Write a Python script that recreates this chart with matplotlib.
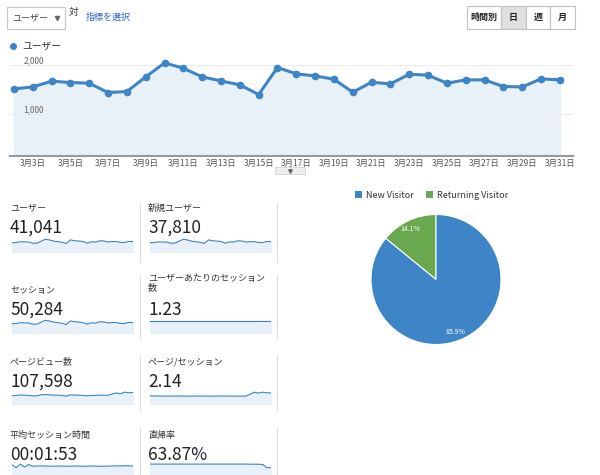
import matplotlib
matplotlib.use("Agg")
import matplotlib.pyplot as plt
from matplotlib.patches import Rectangle
import numpy as np

plt.rcParams["font.family"] = ["Noto Sans CJK JP", "DejaVu Sans"]

dates = [f"3月{d}日" for d in range(2, 32)]
users = [1510, 1550, 1667, 1640, 1626, 1435, 1456, 1755, 2040, 1932, 1755, 1673, 1592, 1395, 1946,
         1816, 1775, 1707, 1442, 1646, 1612, 1810, 1789, 1626, 1694, 1694, 1558, 1551, 1714, 1694]
yticks = [1000, 2000]
tick_labels = ["1,000", "2,000"]

metric_names = ["ユーザー", "新規ユーザー", "セッション", "ユーザーあたりのセッション\n数",
                "ページビュー数", "ページ/セッション", "平均セッション時間", "直帰率"]
metric_values = ["41,041", "37,810", "50,284", "1.23", "107,598", "2.14", "00:01:53", "63.87%"]
spark_users = users
spark_new = [1400, 1430, 1520, 1500, 1490, 1330, 1350, 1620, 1880, 1780, 1610, 1540, 1460, 1290, 1790,
             1670, 1630, 1570, 1330, 1510, 1480, 1660, 1640, 1490, 1550, 1550, 1430, 1420, 1570, 1550]
spark_sessions = [1850, 1900, 2050, 2010, 1990, 1760, 1790, 2150, 2500, 2370, 2150, 2050, 1950, 1710, 2380,
                  2220, 2170, 2090, 1770, 2020, 1980, 2220, 2190, 1990, 2080, 2080, 1910, 1900, 2100, 2080]
spark_spu = [1.23, 1.23, 1.23, 1.23, 1.23, 1.23, 1.23, 1.23, 1.23, 1.23, 1.23, 1.23, 1.23, 1.23, 1.23,
             1.23, 1.23, 1.23, 1.23, 1.23, 1.23, 1.23, 1.23, 1.23, 1.23, 1.23, 1.23, 1.23, 1.23, 1.23]
spark_pv = [3300, 3350, 3550, 3450, 3400, 3150, 3250, 3600, 3700, 3600, 3500, 3450, 3350, 3100, 3600,
            3500, 3450, 3400, 3200, 3400, 3350, 3500, 3450, 3400, 3900, 4300, 4000, 4600, 4400, 4500]
spark_pps = [2.05, 2.03, 2.02, 2.0, 2.01, 2.0, 2.02, 2.02, 2.0, 2.0, 2.0, 2.01, 2.0, 2.01, 2.0,
             2.0, 2.01, 2.02, 2.01, 2.0, 2.01, 2.0, 2.0, 2.0, 2.3, 2.6, 2.45, 2.6, 2.5, 2.5]
spark_dur = [120, 100, 125, 105, 122, 110, 112, 113, 112, 111, 110, 112, 111, 110, 111,
             112, 111, 110, 111, 112, 111, 110, 110, 111, 112, 113, 112, 114, 113, 112]
spark_bounce = [70, 70, 70, 70, 70, 70, 70, 70, 70, 70, 70, 70, 70, 70, 70,
                70, 70, 70, 70, 70, 70, 70, 70, 70, 69, 69, 69, 67, 40, 40]
sparks = [spark_users, spark_new, spark_sessions, spark_spu, spark_pv, spark_pps, spark_dur, spark_bounce]

pie_labels = ["Returning Visitor", "New Visitor"]
pie_values = [14.1, 85.9]

W, H = 600, 475
BLUE = "#3d85c6"
GREEN = "#6aa84f"
fig = plt.figure(figsize=(6, 4.75), dpi=100)

def fx(x): return x / W
def fy(y): return 1 - y / H
def ax_px(x0, y0, x1, y1):
    return fig.add_axes([fx(x0), fy(y1), (x1 - x0) / W, (y1 - y0) / H])

ui = fig.add_axes([0, 0, 1, 1]); ui.set_xlim(0, W); ui.set_ylim(H, 0); ui.axis("off")
ui.add_patch(Rectangle((7, 7), 58, 22, fill=False, ec="#c8c8c8", lw=0.8))
ui.text(12, 18, "ユーザー", fontsize=6.5, va="center", color="#444")
ui.plot([57], [18], marker="v", ms=3, color="#666")
ui.text(69, 12, "対", fontsize=7, va="center", color="#333")
ui.text(86, 17, "指標を選択", fontsize=6.5, va="center", color="#3366cc")
btns = [("時間別", 467, 501), ("日", 501, 526), ("週", 526, 550), ("月", 550, 575)]
for t, a, b in btns:
    ui.add_patch(Rectangle((a, 6), b - a, 23, fc="#e0e0e0" if t == "日" else "white", ec="#c0c0c0", lw=0.8))
    ui.text((a + b) / 2, 17.5, t, fontsize=6.5, ha="center", va="center", color="#222", weight="bold")
ui.plot([13], [46], "o", ms=4, color=BLUE)
ui.text(22, 46, "ユーザー", fontsize=7, va="center", color="#333")
ui.add_patch(Rectangle((275, 167), 30, 7, fc="#eeeeee", ec="#cccccc", lw=0.5))
ui.plot([290], [170.5], marker="v", ms=2.5, color="#666")
for x in (140, 277):
    for y0, y1 in ((203, 262), (275, 338), (355, 410), (428, 475)):
        ui.plot([x, x], [y0, y1], color="#dddddd", lw=0.8)

ax = ax_px(10, 59, 573, 156)
x = np.arange(len(users))
ax.fill_between(x, users, 0, color="#e8f1f8")
ax.plot(x, users, color=BLUE, lw=2.2, marker="o", ms=4.5)
ax.set_xlim(-0.21, 29.7); ax.set_ylim(140, 2120)
ax.set_yticks(yticks)
ax.grid(axis="y", color="#e8e8e8", lw=0.6)
ax.set_yticklabels([])
for v, l in zip(yticks, tick_labels):
    ax.text(0.5, v, l, fontsize=6, color="#666", va="bottom", transform=ax.transData)
ax.set_xticks(x[1::2]); ax.set_xticklabels(dates[1::2], fontsize=6, color="#555")
ax.tick_params(length=0, pad=2)
for s in ("top", "right", "left"):
    ax.spines[s].set_visible(False)
ax.spines["bottom"].set_color("#999"); ax.spines["bottom"].set_lw(1.5)

cols = [10, 148]
rows = [(208, 228, 238, 252), (291, 310, 319, 333), (362, 382, 391, 404), (435, 455, 463, 475)]
for i, (name, val, sp) in enumerate(zip(metric_names, metric_values, sparks)):
    r, c = divmod(i, 2)
    x0 = cols[c]; ly, vy, s0, s1 = rows[r]
    ui.text(x0, ly if "\n" not in name else ly - 8, name, fontsize=6.5, color="#333", va="center", linespacing=1.1)
    ui.text(x0, vy, val, fontsize=12.5, color="#222", va="center")
    sa = ax_px(x0 + 2, s0, x0 + 123, s1)
    sx = np.arange(len(sp))
    lo, hi = min(sp), max(sp)
    span = (hi - lo) if hi > lo else 1
    sa.fill_between(sx, sp, lo - span * 2, color="#e8f1f8")
    sa.plot(sx, sp, color=BLUE, lw=0.8)
    sa.set_ylim(lo - span * 2, hi + span * 0.3)
    sa.set_xlim(0, len(sp) - 1)
    sa.axis("off")

pa = ax_px(371, 214, 501, 345)
w, t = pa.pie(pie_values, colors=[GREEN, BLUE], startangle=90, counterclock=True,
              wedgeprops=dict(ec="white", lw=0.8))
pa.set_xlim(-1.0, 1.0); pa.set_ylim(-1.0, 1.0)
pa.text(-0.4, 0.78, f"{pie_values[0]}%", fontsize=5, color="white", ha="center", va="center")
pa.text(0.3, -0.8, f"{pie_values[1]}%", fontsize=5, color="white", ha="center", va="center")
pa.set_aspect("equal")
ui.add_patch(Rectangle((355, 191), 7, 7, fc=BLUE))
ui.text(366, 195, pie_labels[1], fontsize=6.5, va="center", color="#333")
ui.add_patch(Rectangle((426, 191), 7, 7, fc=GREEN))
ui.text(437, 195, pie_labels[0], fontsize=6.5, va="center", color="#333")

fig.savefig("out.png", dpi=100)
